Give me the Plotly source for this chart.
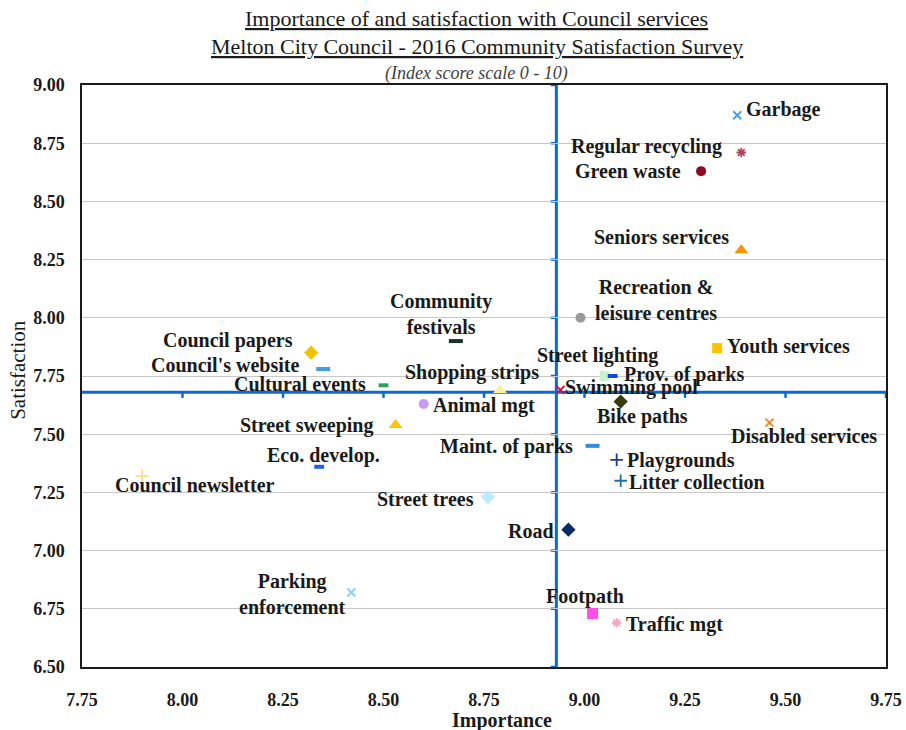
import plotly.graph_objects as go

# Council services: importance vs satisfaction index scores (scale 0-10)
services = [
    "Garbage", "Regular recycling", "Green waste", "Seniors services",
    "Recreation &<br>leisure centres", "Youth services", "Street lighting",
    "Prov. of parks", "Swimming pool", "Bike paths", "Disabled services",
    "Maint. of parks", "Playgrounds", "Litter collection",
    "Community<br>festivals", "Shopping strips", "Animal mgt",
    "Street sweeping", "Cultural events", "Council papers",
    "Council's website", "Eco. develop.", "Council newsletter",
    "Street trees", "Road", "Parking<br>enforcement", "Footpath", "Traffic mgt",
]
importance = [
    9.38, 9.39, 9.29, 9.39,
    8.99, 9.33, 9.05,
    9.07, 8.94, 9.09, 9.46,
    9.02, 9.08, 9.09,
    8.68, 8.79, 8.60,
    8.53, 8.50, 8.32,
    8.35, 8.34, 7.90,
    8.76, 8.96, 8.42, 9.02, 9.08,
]
satisfaction = [
    8.87, 8.71, 8.63, 8.29,
    8.00, 7.87, 7.75,
    7.75, 7.69, 7.64, 7.55,
    7.45, 7.39, 7.30,
    7.90, 7.69, 7.63,
    7.54, 7.71, 7.85,
    7.78, 7.36, 7.32,
    7.23, 7.09, 6.82, 6.73, 6.69,
]

# Average scores where the quadrant lines cross
mean_importance = 8.93
mean_satisfaction = 7.68

x_ticks = [7.75, 8.00, 8.25, 8.50, 8.75, 9.00, 9.25, 9.50, 9.75]
y_ticks = [6.50, 6.75, 7.00, 7.25, 7.50, 7.75, 8.00, 8.25, 8.50, 8.75, 9.00]

# Marker styling per service: (symbol, colour, size)
marker_style = {
    "Garbage": ("x-thin", "#3F9FE0", 8),
    "Regular recycling": ("asterisk", "#B04458", 8),
    "Green waste": ("circle", "#8C0A1E", 10),
    "Seniors services": ("triangle-up", "#F59300", 12),
    "Recreation &<br>leisure centres": ("circle", "#9A9A9A", 10),
    "Youth services": ("square", "#FFC400", 10),
    "Street lighting": ("square", "#C8F2CC", 10),
    "Prov. of parks": ("line-ew", "#1048E0", 7),
    "Swimming pool": ("x-thin", "#D01038", 8),
    "Bike paths": ("diamond", "#3A3A12", 11),
    "Disabled services": ("x-thin", "#F0862A", 8),
    "Maint. of parks": ("line-ew", "#2E8FE0", 10),
    "Playgrounds": ("cross-thin", "#1F3C88", 9),
    "Litter collection": ("cross-thin", "#1F6FA8", 9),
    "Community<br>festivals": ("line-ew", "#1A3328", 10),
    "Shopping strips": ("triangle-up", "#F4F3A2", 12),
    "Animal mgt": ("circle", "#C89CF5", 10),
    "Street sweeping": ("triangle-up", "#FFC400", 12),
    "Cultural events": ("line-ew", "#2E9E62", 7),
    "Council papers": ("diamond", "#F2C200", 11),
    "Council's website": ("line-ew", "#3F9FE0", 10),
    "Eco. develop.": ("line-ew", "#2060E0", 7),
    "Council newsletter": ("cross-thin", "#F2E08E", 9),
    "Street trees": ("diamond", "#BDEBFB", 11),
    "Road": ("diamond", "#0C2A68", 11),
    "Parking<br>enforcement": ("x-thin", "#8FCDF0", 8),
    "Footpath": ("square", "#FF4FE6", 11),
    "Traffic mgt": ("asterisk", "#F2A6BC", 8),
}

# Label placement relative to each marker: (xanchor, xshift px, yshift px)
label_place = {
    "Garbage": ("left", 7, 6),
    "Regular recycling": ("right", -17, 6),
    "Green waste": ("right", -18, 0),
    "Seniors services": ("right", -10, 13),
    "Recreation &<br>leisure centres": ("center", 76, 18),
    "Youth services": ("left", 8, 2),
    "Street lighting": ("center", -7, 21),
    "Prov. of parks": ("left", 9, 2),
    "Swimming pool": ("left", 3, 2),
    "Bike paths": ("center", 22, -15),
    "Disabled services": ("center", 35, -13),
    "Maint. of parks": ("right", -18, -1),
    "Playgrounds": ("left", 8, -1),
    "Litter collection": ("left", 6, -1),
    "Community<br>festivals": ("center", -15, 27),
    "Shopping strips": ("center", -28, 17),
    "Animal mgt": ("left", 7, -2),
    "Street sweeping": ("right", -20, -1),
    "Cultural events": ("right", -16, 1),
    "Council papers": ("right", -16, 12),
    "Council's website": ("right", -22, 4),
    "Eco. develop.": ("center", 4, 11),
    "Council newsletter": ("center", 53, -9),
    "Street trees": ("right", -12, -2),
    "Road": ("right", -12, -1),
    "Parking<br>enforcement": ("center", -59, -1),
    "Footpath": ("center", -8, 17),
    "Traffic mgt": ("left", 7, -2),
}

SERIF = "Liberation Serif"
BLUE = "#0A6AD2"
INK = "#1A1A1A"

fig = go.Figure()

annotations = []
for name, imp, sat in zip(services, importance, satisfaction):
    sym, col, size = marker_style[name]
    line_w = 0
    if sym.startswith("line"):
        line_w = 4
    elif sym in ("x-thin", "cross-thin", "asterisk"):
        line_w = 1.8
    fig.add_trace(go.Scatter(
        x=[imp], y=[sat], mode="markers", name=name.replace("<br>", " "),
        marker=dict(symbol=sym, color=col, size=size,
                    line=dict(width=line_w, color=col)),
        showlegend=False, cliponaxis=False,
    ))
    anchor, dx, dy = label_place[name]
    annotations.append(dict(
        x=imp, y=sat, xref="x", yref="y", text=name, showarrow=False,
        xanchor=anchor, yanchor="middle", xshift=dx, yshift=dy, align="center",
        font=dict(family=SERIF, size=20, color=INK, weight="bold"),
    ))

# Quadrant lines at the averages, with their own tick marks
shapes = [
    dict(type="line", xref="x", yref="y", x0=mean_importance, x1=mean_importance,
         y0=y_ticks[0], y1=y_ticks[-1] + 0.01, line=dict(color=BLUE, width=3), layer="below"),
    dict(type="line", xref="x", yref="y", x0=x_ticks[0] - 0.008, x1=x_ticks[-1],
         y0=mean_satisfaction, y1=mean_satisfaction, line=dict(color=BLUE, width=3), layer="below"),
]
for xt in x_ticks[1:]:
    shapes.append(dict(type="line", xref="x", yref="y", x0=xt, x1=xt,
                       y0=mean_satisfaction, y1=mean_satisfaction - 0.024,
                       line=dict(color=BLUE, width=2.5), layer="below"))
for yt in y_ticks:
    shapes.append(dict(type="line", xref="x", yref="y", x0=mean_importance - 0.014,
                       x1=mean_importance, y0=yt, y1=yt,
                       line=dict(color=BLUE, width=2.5), layer="below"))

# Titles and axis titles
annotations += [
    dict(xref="paper", yref="paper", x=0.491, y=1.115, xanchor="center", yanchor="middle",
         text="<u>Importance of and satisfaction with Council services</u>", showarrow=False,
         font=dict(family=SERIF, size=22, color=INK)),
    dict(xref="paper", yref="paper", x=0.491, y=1.067, xanchor="center", yanchor="middle",
         text="<u>Melton City Council - 2016 Community Satisfaction Survey</u>", showarrow=False,
         font=dict(family=SERIF, size=22, color=INK)),
    dict(xref="paper", yref="paper", x=0.491, y=1.020, xanchor="center", yanchor="middle",
         text="<i>(Index score scale 0 - 10)</i>", showarrow=False,
         font=dict(family=SERIF, size=18, color="#404040")),
    dict(xref="paper", yref="paper", x=0.523, y=-0.092, xanchor="center", yanchor="middle",
         text="Importance", showarrow=False,
         font=dict(family=SERIF, size=20, color=INK, weight="bold")),
    dict(xref="paper", yref="paper", x=-0.08, y=0.51, xanchor="center", yanchor="middle",
         text="Satisfaction", showarrow=False, textangle=-90,
         font=dict(family=SERIF, size=21, color=INK)),
]

fig.update_layout(
    width=906, height=730,
    margin=dict(l=82, r=20, t=85, b=63),
    paper_bgcolor="white", plot_bgcolor="white",
    shapes=shapes, annotations=annotations,
    font=dict(family=SERIF, color=INK),
    xaxis=dict(range=[x_ticks[0], x_ticks[-1]], tickvals=x_ticks, tickformat=".2f",
               showgrid=False, zeroline=False, showline=True, linecolor=INK,
               linewidth=1.5, mirror=True, ticks="", ticklabelstandoff=16,
               automargin=False, ticklabeloverflow="allow",
               tickfont=dict(family=SERIF, size=18, color=INK, weight="bold")),
    yaxis=dict(range=[y_ticks[0], y_ticks[-1]], tickvals=y_ticks, tickformat=".2f",
               showgrid=True, gridcolor="#C8C8C8", gridwidth=1.2, zeroline=False,
               showline=True, linecolor=INK, linewidth=1.5, mirror=True,
               ticks="", ticklabelstandoff=12, automargin=False,
               tickfont=dict(family=SERIF, size=18, color=INK, weight="bold")),
)

fig.write_html("out.html")
